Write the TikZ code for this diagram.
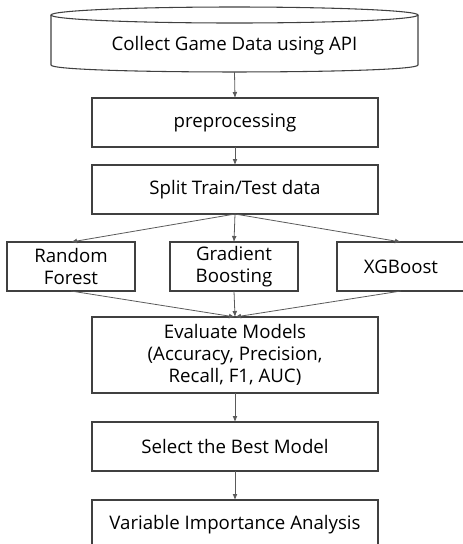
\documentclass[tikz,border=0pt]{standalone}
\usepackage{fontspec}
\setmainfont{Open Sans}
\usetikzlibrary{arrows.meta,positioning,calc}
\definecolor{boxline}{RGB}{64,64,64}
\definecolor{flowgray}{RGB}{90,90,90}

\tikzset{
  stepbox/.style={draw=boxline, line width=0.8pt, rectangle, inner sep=0pt, outer sep=0pt,
    minimum width=214.5pt, minimum height=36.75pt, align=center, font=\fontsize{14}{16.5}\selectfont},
  modelbox/.style={stepbox, minimum width=96pt},
  flow/.style={-{Latex[length=4.5pt,width=3.6pt]}, draw=flowgray, line width=0.6pt}
}

\begin{document}
\begin{tikzpicture}[x=0.75pt, y=-0.75pt]
    \useasboundingbox (0,0) rectangle (462,544);

    % Data source (cylinder)
    \draw[boxline, line width=0.8pt] (234.5,15) ellipse[x radius=183.5, y radius=8];
    \draw[boxline, line width=0.8pt] (51,15) -- (51,65) .. controls (51,74.3) and (418,74.3) .. (418,65) -- (418,15);
    \node[inner sep=0pt, outer sep=0pt, minimum width=275.25pt, minimum height=39pt,
      font=\fontsize{14}{16.5}\selectfont] (collect) at (234.5,46) {Collect Game Data using API};

    % Preparation
    \node[stepbox] (prep) at (235,122.5) {preprocessing};
    \node[stepbox] (split) at (235,189.5) {Split Train/Test data};

    % Models
    \node[modelbox] (rf) at (71,266.5) {Random\\Forest};
    \node[modelbox] (gb) at (234,266.5) {Gradient\\Boosting};
    \node[modelbox] (xgb) at (401,266.5) {XGBoost};

    % Evaluation
    \node[stepbox, minimum height=57pt] (eval) at (235,355) {Evaluate Models\\(Accuracy, Precision,\\Recall, F1, AUC)};
    \node[stepbox] (best) at (235,446.5) {Select the Best Model};
    \node[stepbox] (varimp) at (235,524.5) {Variable Importance Analysis};

    % Connectors
    \draw[flow] (collect.south) -- (prep.north);
    \draw[flow] (prep) -- (split);
    \draw[flow] (split.south) -- (rf.north);
    \draw[flow] (split.south) -- (gb.north);
    \draw[flow] (split.south) -- (xgb.north);
    \draw[flow] (rf.south) -- (eval.north);
    \draw[flow] (gb.south) -- (eval.north);
    \draw[flow] (xgb.south) -- (eval.north);
    \draw[flow] (eval) -- (best);
    \draw[flow] (best) -- (varimp);
\end{tikzpicture}
\end{document}
